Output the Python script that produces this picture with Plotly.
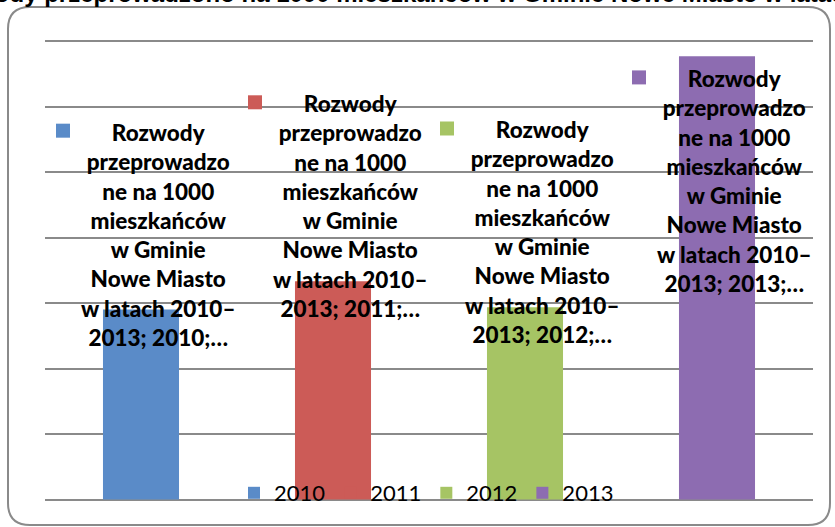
import plotly.graph_objects as go

W, H = 835, 527
ML, MR, MT, MB = 45, 22, 39, 25

title_text = "Rozwody przeprowadzono na 1000 mieszkańców w Gminie Nowe Miasto w latach 2010–2013"
years = ["2010", "2011", "2012", "2013"]
values = [0.87, 1.0, 0.88, 2.03]
colors = ["#5a8bc8", "#cc5b57", "#a6c464", "#8d6cb1"]
label_lines = ["Rozwody", "przeprowadzo", "ne na 1000", "mieszkańców",
               "w Gminie", "Nowe Miasto", "w latach 2010–"]
label_shift = [75, 75, 75, -125]   # pixel offset of label centre vs bar top
y_max, y_step = 2.1, 0.3
y_lo, y_hi = -0.01145, 2.10916      # tiny padding so edge gridlines are drawn

fig = go.Figure()
for yr, v, c in zip(years, values, colors):
    fig.add_trace(go.Bar(x=[yr], y=[v], name=yr, marker=dict(color=c, line=dict(width=0)),
                         hoverinfo="skip"))

FS = 22.5
line_h = 1.3 * FS
for i, (yr, v, c, sh) in enumerate(zip(years, values, colors, label_shift)):
    txt = "<br>".join(label_lines + [f"2013; {yr};…"])
    fig.add_annotation(x=i, y=v, xref="x", yref="y", text=txt, showarrow=False,
                       xanchor="center", yanchor="middle", xshift=17, yshift=sh,
                       align="center",
                       font=dict(family="Lato", size=FS, color="#000000", weight=900))
    sq = sh + 3.5 * line_h + 1.5
    fig.add_shape(type="rect", xref="x", yref="y", xsizemode="pixel", ysizemode="pixel",
                  xanchor=i, yanchor=v, x0=-85, x1=-71, y0=sq - 7, y1=sq + 7,
                  fillcolor=c, line=dict(width=0), layer="above")

# rounded border
L, T, R, B, r = 8, 7, 830, 525, 22
def px(x):
    return (x - ML) / (W - ML - MR)
def py(y):
    return (H - MB - y) / (H - MT - MB)
path = (f"M {px(L + r)},{py(T)} L {px(R - r)},{py(T)} Q {px(R)},{py(T)} {px(R)},{py(T + r)} "
        f"L {px(R)},{py(B - r)} Q {px(R)},{py(B)} {px(R - r)},{py(B)} "
        f"L {px(L + r)},{py(B)} Q {px(L)},{py(B)} {px(L)},{py(B - r)} "
        f"L {px(L)},{py(T + r)} Q {px(L)},{py(T)} {px(L + r)},{py(T)} Z")
fig.add_shape(type="path", xref="paper", yref="paper", path=path,
              line=dict(color="#8a8a8a", width=2), fillcolor="rgba(0,0,0,0)", layer="below")

fig.update_layout(
    width=W, height=H,
    margin=dict(l=ML, r=MR, t=MT, b=MB, autoexpand=False),
    paper_bgcolor="white", plot_bgcolor="white",
    barmode="overlay", bargap=0.604,
    showlegend=True,
    legend=dict(orientation="h", x=(234 - ML) / (W - ML - MR), y=(H - MB - 493) / (H - MT - MB),
                xanchor="left", yanchor="middle", bgcolor="rgba(0,0,0,0)",
                font=dict(family="Lato", size=22, color="#000000"),
                itemclick=False, traceorder="normal"),
    title=dict(text=title_text, x=459 / W, xanchor="center", y=1 - 1.5 / H, yanchor="bottom",
               yref="container", font=dict(family="Liberation Sans", size=24, color="#000000",
                                            weight="bold")),
    xaxis=dict(showticklabels=False, showgrid=False, zeroline=False, showline=False,
               ticks="", type="category", categoryorder="array", categoryarray=years,
               range=[-0.5, 3.5], fixedrange=True),
    yaxis=dict(range=[y_lo, y_hi], dtick=y_step, tick0=0, showticklabels=False,
               showgrid=True, gridcolor="#8a8a8a", gridwidth=2, zeroline=False,
               showline=False, ticks="", fixedrange=True),
)

fig.write_html("out.html", config={"displayModeBar": False, "staticPlot": True},
               post_script="document.body.style.margin='0';")
